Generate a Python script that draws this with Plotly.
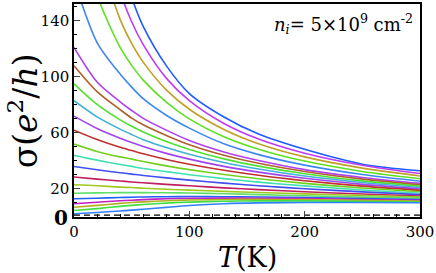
import plotly.graph_objects as go

T = [0, 20, 40, 50, 60, 80, 100, 130, 160, 200, 250, 300]

sigma_curves = [
    [613, 283, 184, 156.7, 136, 108, 88.1, 71.4, 59.2, 48.3, 37.7, 33.0],
    [418, 233, 161, 139.3, 123, 99.1, 83.0, 66.7, 55.6, 45.5, 36.9, 31.0],
    [308, 194, 141, 123.9, 110.5, 90.7, 76.9, 62.5, 52.3, 42.9, 34.9, 29.3],
    [228, 158.5, 121, 108.2, 97.7, 82.0, 70.0, 57.3, 48.4, 39.9, 32.5, 27.3],
    [169, 124.5, 102, 92.7, 84.4, 72.6, 63.4, 52.2, 44.5, 37.0, 30.3, 25.5],
    [121, 96.3, 82.2, 76.0, 70.4, 62.0, 54.6, 46.4, 40.3, 33.8, 28.2, 24.0],
    [108, 89.5, 76.6, 70.6, 65.8, 58.2, 51.6, 44.1, 38.3, 32.5, 27.0, 23.0],
    [95, 80.3, 69.3, 64.7, 60.6, 53.8, 48.2, 41.5, 36.3, 30.9, 25.8, 22.0],
    [83, 71.5, 62.7, 58.8, 55.2, 49.6, 44.8, 38.9, 34.2, 29.2, 24.6, 21.0],
    [72, 63.2, 56.2, 53.1, 50.3, 45.4, 41.3, 36.1, 32.0, 27.6, 23.3, 20.0],
    [62, 55.3, 49.7, 47.4, 45.1, 41.1, 37.7, 33.4, 29.8, 25.9, 22.0, 19.0],
    [52, 46.8, 42.9, 41.3, 39.6, 36.5, 33.8, 30.3, 27.3, 24.0, 20.7, 18.0],
    [44, 40.6, 37.5, 36.1, 34.6, 32.4, 30.2, 27.4, 24.9, 22.2, 19.3, 17.0],
    [36, 33.7, 31.6, 30.6, 29.6, 27.9, 26.3, 24.2, 22.3, 20.2, 17.9, 16.0],
    [28.5, 27.0, 25.7, 25.0, 24.4, 23.3, 22.3, 20.8, 19.5, 18.0, 16.4, 15.0],
    [23, 22.3, 21.3, 21.0, 20.5, 19.8, 19.2, 18.3, 17.5, 16.5, 15.3, 14.2],
    [17, 17.2, 17.4, 17.4, 17.4, 17.3, 17.1, 16.6, 16.0, 15.2, 14.2, 13.3],
    [13, 13.4, 13.9, 14.1, 14.3, 14.5, 14.6, 14.5, 14.3, 13.9, 13.2, 12.5],
    [9.5, 10.5, 11.6, 12.0, 12.4, 13.0, 13.3, 13.5, 13.4, 13.1, 12.5, 11.9],
    [7, 8.3, 9.7, 10.3, 10.8, 11.6, 12.1, 12.5, 12.6, 12.4, 11.9, 11.3],
    [4.6, 6.0, 7.6, 8.3, 8.9, 9.9, 10.6, 11.2, 11.5, 11.5, 11.1, 10.6],
    [2.3, 3.2, 4.3, 4.9, 5.5, 6.9, 8.2, 9.5, 10.1, 10.3, 10.3, 10.2],
]

colors = [
    "#1f5cff", "#c03cf0", "#c0a028", "#5ee020", "#3c88f0", "#b040f0",
    "#b0602a", "#50e030", "#40b0d8", "#a044f0", "#c03030", "#74d020",
    "#40e0b0", "#4050f0", "#c02060", "#a0c820", "#5ee068", "#2060ff",
    "#c020c8", "#b0b020", "#40e040", "#3080ff",
]

sigma_min = 1.3
T_span = [0, 300]

fig = go.Figure()
for vals, c in zip(sigma_curves, colors):
    fig.add_trace(go.Scatter(x=T, y=vals, mode="lines",
                             line=dict(color=c, width=1.6, shape="spline", smoothing=0.8),
                             showlegend=False, hoverinfo="skip"))

fig.add_trace(go.Scatter(x=T_span, y=[sigma_min, sigma_min], mode="lines",
                         line=dict(color="black", width=1.2, dash="6px,4px"),
                         showlegend=False, hoverinfo="skip"))

serif = "DejaVu Serif"
fig.update_layout(
    width=436, height=273,
    margin=dict(l=74, r=15, t=2, b=56),
    paper_bgcolor="white", plot_bgcolor="white",
    font=dict(family=serif, color="black", size=15),
    xaxis=dict(range=[0, 300], tickvals=[0, 100, 200, 300], ticks="inside", ticklen=6,
               showline=True, mirror=True, linecolor="black", linewidth=1.5,
               showgrid=False, zeroline=False, tickfont=dict(family=serif, size=15),
               minor=dict(dtick=20, ticks="inside", ticklen=3, tickcolor="black")),
    yaxis=dict(range=[0, 152], tickvals=[20, 60, 100, 140], ticks="inside", ticklen=6,
               showline=True, mirror=True, linecolor="black", linewidth=1.5,
               showgrid=False, zeroline=False, tickfont=dict(family=serif, size=15),
               minor=dict(dtick=10, ticks="inside", ticklen=3, tickcolor="black")),
    annotations=[
        dict(text="<b>0</b>", x=0, y=0, xref="paper", yref="y", xanchor="right",
             yanchor="middle", xshift=-4, yshift=-1, showarrow=False,
             font=dict(family=serif, size=20)),
        dict(text="σ(<i>e</i><sup>2</sup>/<i>h</i>)", x=-0.145, y=0.5, xref="paper",
             yref="paper", xanchor="center", yanchor="middle",
             showarrow=False, textangle=-90, font=dict(family=serif, size=33)),
        dict(text="<i>T</i>(K)", x=0.5, y=-0.19, xref="paper", yref="paper",
             xanchor="center", yanchor="middle", showarrow=False,
             font=dict(family=serif, size=27)),
        dict(text="<i>n<sub>i</sub></i>= 5×10<sup>9</sup> cm<sup>-2</sup>",
             x=0.985, y=0.905, xref="paper", yref="paper", xanchor="right",
             yanchor="middle", showarrow=False, font=dict(family=serif, size=18)),
    ],
)

fig.write_html("out.html", config={"displayModeBar": False},
               post_script="document.body.style.margin='0';")
